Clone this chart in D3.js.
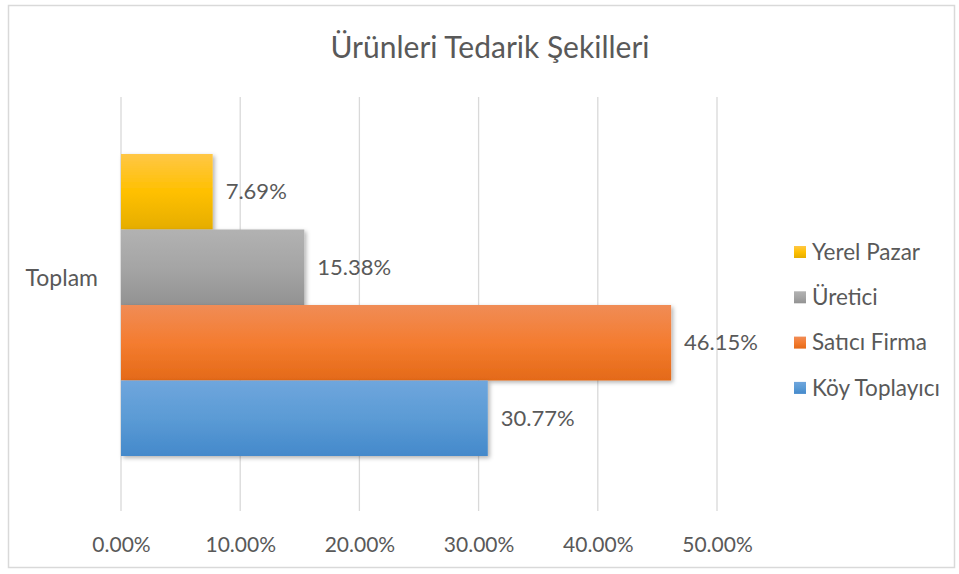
<!DOCTYPE html>
<html><head><meta charset="utf-8">
<script src="https://cdn.jsdelivr.net/npm/d3@7"></script>
<style>body{margin:0;background:#fff;} svg{display:block;}</style>
</head><body>
<svg id="c" width="959" height="574"></svg>
<script>
const title = "Ürünleri Tedarik Şekilleri";
const categories = ["Toplam"];
const seriesNames = ["Yerel Pazar", "Üretici", "Satıcı Firma", "Köy Toplayıcı"];
const seriesValues = [7.69, 15.38, 46.15, 30.77];
const tickValues = [0, 10, 20, 30, 40, 50];
const gradients = [
  ["#FFC746", "#FFC000", "#E5AD00"],
  ["#B2B2B2", "#A5A5A5", "#929292"],
  ["#F08C56", "#F47C30", "#E46A18"],
  ["#6FA6DD", "#5B9BD5", "#4489CB"]
];

const svg = d3.select("#c");
const font = "Lato, 'Noto Sans', sans-serif";
const textColor = "#595959";

svg.append("rect").attr("x", 8.5).attr("y", 5.5).attr("width", 946).attr("height", 562)
  .attr("fill", "#fff").attr("stroke", "#D9D9D9").attr("stroke-width", 1.5);

const defs = svg.append("defs");
gradients.forEach((g, i) => {
  const lg = defs.append("linearGradient").attr("id", "g" + i).attr("x1", 0).attr("y1", 0).attr("x2", 0).attr("y2", 1);
  lg.append("stop").attr("offset", "0%").attr("stop-color", g[0]);
  lg.append("stop").attr("offset", "50%").attr("stop-color", g[1]);
  lg.append("stop").attr("offset", "100%").attr("stop-color", g[2]);
});
const f = defs.append("filter").attr("id", "sh").attr("x", "-5%").attr("y", "-10%").attr("width", "115%").attr("height", "130%");
f.append("feDropShadow").attr("dx", 2).attr("dy", 2).attr("stdDeviation", 2).attr("flood-color", "#000").attr("flood-opacity", 0.3);

const x = d3.scaleLinear().domain([0, 50]).range([121, 717]);
const yS = d3.scaleBand().domain(seriesNames).range([154, 456]);

// gridlines
svg.append("g").selectAll("line").data(tickValues).join("line")
  .attr("x1", d => x(d)).attr("x2", d => x(d)).attr("y1", 97).attr("y2", 511)
  .attr("stroke", "#D9D9D9").attr("stroke-width", 1.3);

// axis labels
const xAxis = d3.axisBottom(x).tickValues(tickValues).tickFormat(d => d.toFixed(2) + "%").tickSize(0).tickPadding(0);
const ax = svg.append("g").attr("transform", "translate(0,545)").call(xAxis);
ax.select(".domain").remove();
ax.selectAll("text").attr("font-family", font).attr("font-size", 21).attr("fill", textColor).attr("dy", "0.35em").attr("y", 0);

// bars
svg.append("g").selectAll("rect").data(seriesNames).join("rect")
  .attr("x", x(0)).attr("y", d => yS(d)).attr("height", yS.bandwidth())
  .attr("width", (d, i) => x(seriesValues[i]) - x(0))
  .attr("fill", (d, i) => `url(#g${i})`).attr("filter", "url(#sh)");

// data labels
svg.append("g").selectAll("text").data(seriesNames).join("text")
  .attr("x", (d, i) => x(seriesValues[i]) + 13)
  .attr("y", d => yS(d) + yS.bandwidth() / 2)
  .attr("dy", "0.35em")
  .attr("font-family", font).attr("font-size", 22).attr("fill", textColor)
  .text((d, i) => seriesValues[i].toFixed(2) + "%");

// category label
svg.append("text").attr("x", 98).attr("y", 278).attr("dy", "0.35em").attr("text-anchor", "end")
  .attr("font-family", font).attr("font-size", 23).attr("fill", textColor).text(categories[0]);

// title
svg.append("text").attr("x", 490).attr("y", 47).attr("dy", "0.35em").attr("text-anchor", "middle")
  .attr("font-family", font).attr("font-size", 30).attr("fill", textColor).text(title);

// legend
const lg = svg.append("g");
seriesNames.forEach((s, i) => {
  const yy = 252 + i * 45.3;
  lg.append("rect").attr("x", 794).attr("y", yy - 6).attr("width", 12).attr("height", 12).attr("fill", `url(#g${i})`);
  lg.append("text").attr("x", 812).attr("y", yy).attr("dy", "0.35em").attr("font-family", font)
    .attr("font-size", 22.5).attr("fill", textColor).text(s);
});
</script>
</body></html>
